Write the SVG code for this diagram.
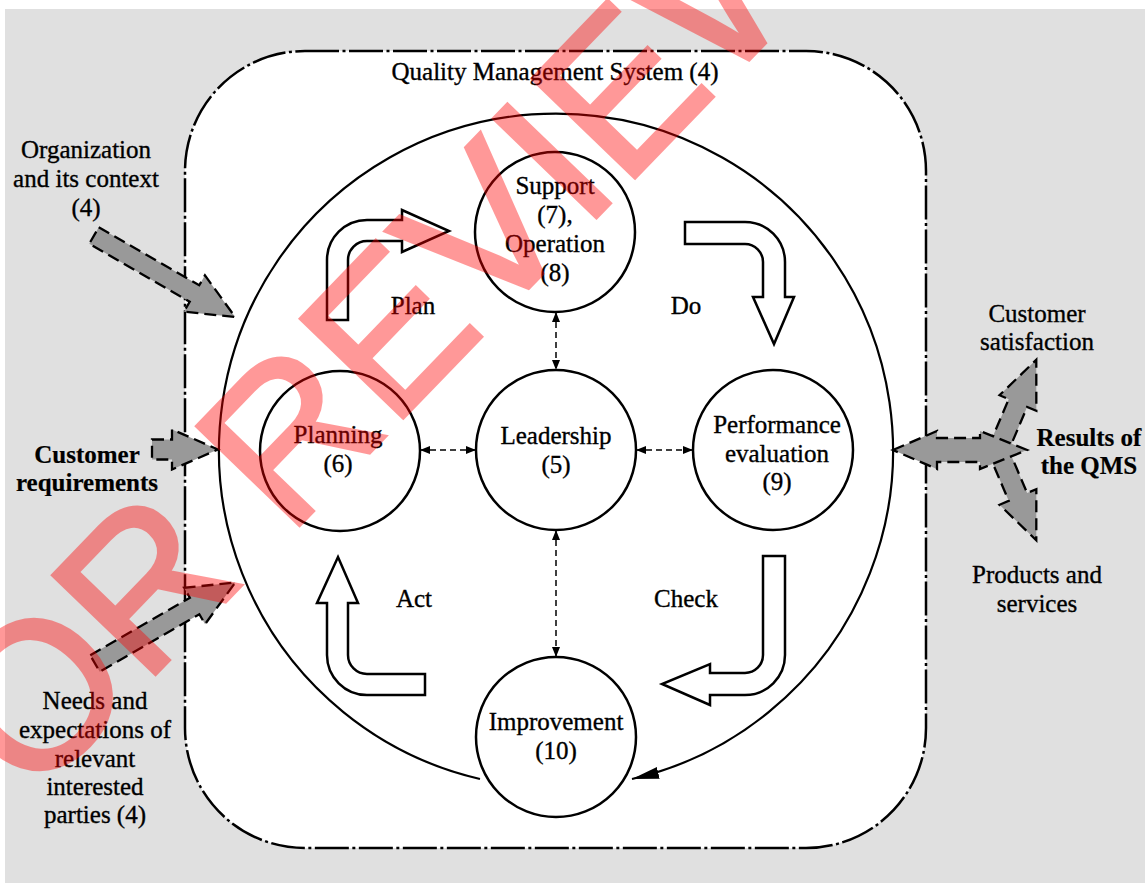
<svg xmlns="http://www.w3.org/2000/svg" width="1145" height="883" viewBox="0 0 1145 883">
<style>
.t{font-family:"Liberation Serif","Times New Roman",serif;font-size:25px;fill:#000;stroke:#000;stroke-width:0.35;text-anchor:middle}
.b{font-weight:bold;stroke-width:0.2}
.node circle{fill:#fff;stroke:#000;stroke-width:2.5}
.blk{fill:#fff;stroke:#000;stroke-width:2.5;stroke-linejoin:miter}
.gray{fill:#999;stroke:#000;stroke-width:2.3;stroke-dasharray:12 6}
.dash{stroke:#000;stroke-width:1.5;stroke-dasharray:6 4;fill:none}
.wm{font-family:"Liberation Sans",Arial,sans-serif;font-size:207px;fill:#ff0000;stroke:#ff0000;stroke-width:4}
</style>
<defs>
<marker id="sm" viewBox="0 0 10 8" refX="10" refY="4" markerWidth="10" markerHeight="8" markerUnits="userSpaceOnUse" orient="auto-start-reverse">
<path d="M0,0 L10,4 L0,8 Z" fill="#000"/>
</marker>
<marker id="big" viewBox="0 0 27 12" refX="27" refY="6" markerWidth="27" markerHeight="12" markerUnits="userSpaceOnUse" orient="auto">
<path d="M0,0 L27,6 L0,12 Z" fill="#000"/>
</marker>
</defs>
<rect x="5" y="9" width="1140" height="874" fill="#e0e0e0"/>
<g id="qms">
<rect x="185" y="51" width="741" height="797" rx="120" ry="120" fill="#fff" stroke="#000" stroke-width="2.5" stroke-dasharray="34 3.5 3 3.5"/>
<text class="t" x="555" y="80">Quality Management System (4)</text>
</g>
<g id="connectors">
<path d="M480,779 A337,337 0 1 1 632,779" fill="none" stroke="#000" stroke-width="2.2" marker-end="url(#big)"/>
<line class="dash" x1="556" y1="312" x2="556" y2="370" marker-start="url(#sm)" marker-end="url(#sm)"/>
<line class="dash" x1="556" y1="530" x2="556" y2="657" marker-start="url(#sm)" marker-end="url(#sm)"/>
<line class="dash" x1="420" y1="450" x2="476" y2="450" marker-start="url(#sm)" marker-end="url(#sm)"/>
<line class="dash" x1="636" y1="450" x2="693" y2="450" marker-start="url(#sm)" marker-end="url(#sm)"/>
</g>
<g id="pdca">
<path class="blk" d="M327,320 L327,260 A40,40 0 0 1 367,220 L402,220 L402,210 L449,231 L402,252 L402,241 L367,241 A19,19 0 0 0 348,260 L348,320 Z"/>
<path class="blk" d="M685,222 L745,222 A40,40 0 0 1 785,262 L785,297 L794,297 L774,344 L753,297 L763,297 L763,262 A18,18 0 0 0 745,244 L685,244 Z"/>
<path class="blk" d="M763,556 L785,556 L785,655 A40,40 0 0 1 745,695 L710,695 L710,705 L662,684 L710,664 L710,673 L745,673 A18,18 0 0 0 763,655 Z"/>
<path class="blk" d="M425,674 L425,695 L367,695 A40,40 0 0 1 327,655 L327,603 L317,603 L338,557 L358,603 L348,603 L348,655 A19,19 0 0 0 367,674 Z"/>
<text class="t" x="413" y="314">Plan</text>
<text class="t" x="686" y="314">Do</text>
<text class="t" x="414" y="607">Act</text>
<text class="t" x="686" y="607">Check</text>
</g>
<g id="inputs">
<polygon class="gray" transform="translate(94,235.5) rotate(30)" points="0,-9.5 116,-9.5 116,-21 163,0 116,21 116,9.5 0,9.5"/>
<polygon class="gray" transform="translate(152,449.5)" points="0,-10 20,-10 20,-20 66,0 20,20 20,10 0,10"/>
<polygon class="gray" transform="translate(95,663.5) rotate(-30)" points="0,-9.5 115,-9.5 115,-21 162,0 115,21 115,9.5 0,9.5"/>
<text class="t" x="86" y="158">Organization</text>
<text class="t" x="86" y="187">and its context</text>
<text class="t" x="86" y="216">(4)</text>
<text class="t b" x="87" y="463">Customer</text>
<text class="t b" x="87" y="491">requirements</text>
<text class="t" x="95" y="709">Needs and</text>
<text class="t" x="95" y="738">expectations of</text>
<text class="t" x="95" y="767">relevant</text>
<text class="t" x="95" y="795">interested</text>
<text class="t" x="95" y="823">parties (4)</text>
</g>
<g id="outputs">
<polygon class="gray" transform="translate(998,450) rotate(-67)" points="0,-10 51,-10 51,-20 98,0 51,20 51,10 0,10"/>
<polygon class="gray" transform="translate(998,450) rotate(67)" points="0,-10 51,-10 51,-20 98,0 51,20 51,10 0,10"/>
<polygon class="gray" points="893,450 937,431 937,438 980,438 980,431 1027,450 980,469 980,462 937,462 937,469"/>
<text class="t" x="1037" y="322">Customer</text>
<text class="t" x="1037" y="350">satisfaction</text>
<text class="t b" x="1089" y="446">Results of</text>
<text class="t b" x="1089" y="474">the QMS</text>
<text class="t" x="1037" y="583">Products and</text>
<text class="t" x="1037" y="612">services</text>
</g>
<g id="support" class="node">
<circle cx="555" cy="232" r="80"/>
<text class="t" x="555" y="194">Support</text>
<text class="t" x="555" y="223">(7),</text>
<text class="t" x="555" y="252">Operation</text>
<text class="t" x="555" y="281">(8)</text>
</g>
<g id="planning" class="node">
<circle cx="340" cy="451" r="80"/>
<text class="t" x="338" y="443">Planning</text>
<text class="t" x="338" y="472">(6)</text>
</g>
<g id="leadership" class="node">
<circle cx="556" cy="450" r="80"/>
<text class="t" x="556" y="444">Leadership</text>
<text class="t" x="556" y="473">(5)</text>
</g>
<g id="performance" class="node">
<circle cx="773" cy="450" r="80"/>
<text class="t" x="777" y="433">Performance</text>
<text class="t" x="777" y="462">evaluation</text>
<text class="t" x="777" y="490">(9)</text>
</g>
<g id="improvement" class="node">
<circle cx="556" cy="737" r="80"/>
<text class="t" x="556" y="730">Improvement</text>
<text class="t" x="556" y="759">(10)</text>
</g>
<g id="watermark" opacity="0.4">
<text class="wm" transform="translate(32,802) rotate(-46)">OR REVIEW</text>
</g>
</svg>
